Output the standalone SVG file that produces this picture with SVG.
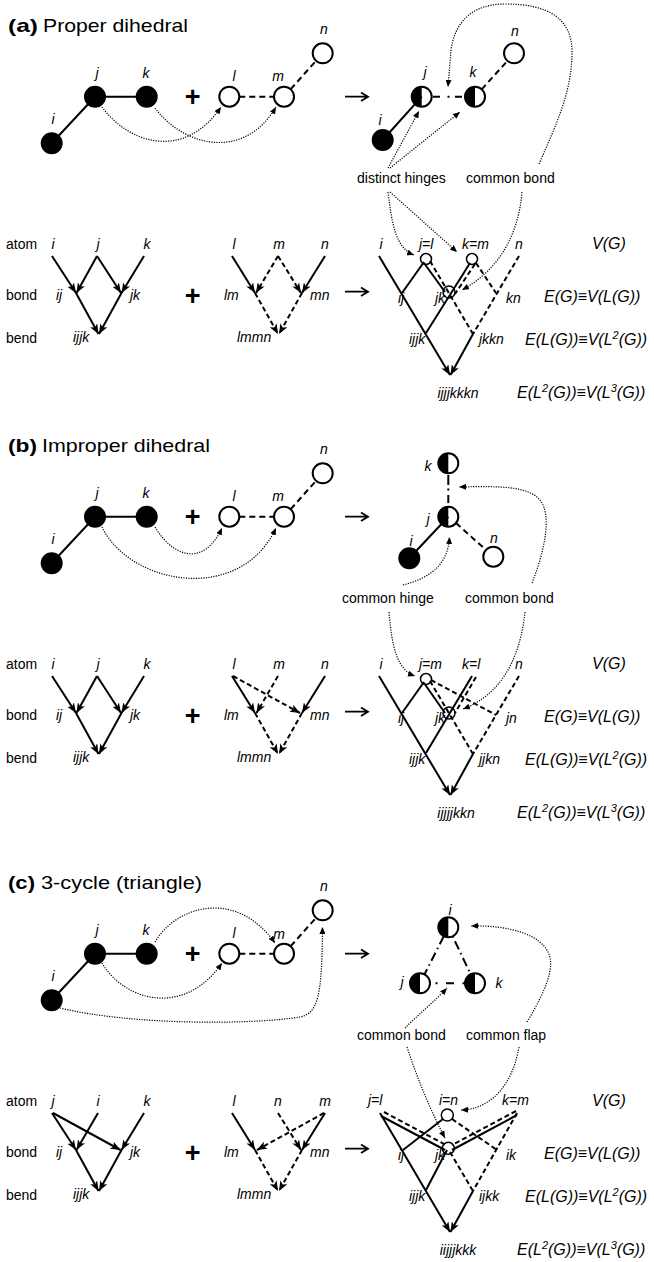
<svg xmlns="http://www.w3.org/2000/svg" width="654" height="1262" viewBox="0 0 654 1262">
<style>
text{font-family:"Liberation Sans",Arial,"DejaVu Sans",sans-serif;fill:#000}
.ttl{font-size:19px}
.it{font-style:italic;font-size:14px}
.tx{font-size:14px}
.fm{font-style:italic;font-size:16px}
.sup{font-size:11px}
.plus{font-size:27px;font-weight:bold}
.s{stroke:#000;stroke-width:2;fill:none}
.d{stroke:#000;stroke-width:2;fill:none;stroke-dasharray:5 3}
.g{stroke:#000;stroke-width:2;fill:none;stroke-dasharray:6 4}
.dd{stroke:#000;stroke-width:2;fill:none}
.dt{stroke:#000;stroke-width:1.2;fill:none;stroke-dasharray:1.2 1.3}
.ar{stroke:#000;stroke-width:1.8;fill:none}
.nf{fill:#000;stroke:#000;stroke-width:2}
.no{fill:#fff;stroke:#000;stroke-width:2}
.nh{fill:none;stroke:#000;stroke-width:2}
.mc{fill:none;stroke:#000;stroke-width:1.5}
</style>
<defs>
<marker id="ah" markerUnits="userSpaceOnUse" markerWidth="11" markerHeight="8" refX="10" refY="4" orient="auto"><path d="M0,0 L10,4 L0,8 L2.5,4 z" fill="#000"/></marker>
<marker id="dh" markerUnits="userSpaceOnUse" markerWidth="8" markerHeight="6" refX="7" refY="3" orient="auto"><path d="M0,0 L7,3 L0,6 z" fill="#000"/></marker>
</defs>

<!-- ================= (a) ================= -->
<g id="secA">
<g id="a-title"><text class="ttl" x="8" y="32" font-weight="bold" textLength="30" lengthAdjust="spacingAndGlyphs">(a)</text><text class="ttl" x="43" y="32" textLength="145" lengthAdjust="spacingAndGlyphs">Proper dihedral</text></g>
<g id="a-connectors">
<path class="s" d="M51.7,143.3 L95,96.7 M95,96.7 L146.7,96.7"/>
<path class="g" d="M239.3,96.7 L274,96.7 M290.7,89.2 L316,60.8"/>
<path class="s" d="M382.7,140 L421.7,96.7"/>
<path class="dd" d="M433,96.7 H440 M447.5,96.7 H449.5 M455,96.7 H462"/>
<path class="g" d="M481.7,89.3 L507.3,61"/>
<path class="ar" d="M345,96.7 H367 M361,92.5 L368,96.7 L361,100.9"/>
<path class="dt" marker-end="url(#dh)" d="M102,107 C130,145 185,160 221,107"/>
<path class="dt" marker-end="url(#dh)" d="M155,108 C185,148 245,160 276,107"/>
<path class="dt" marker-end="url(#dh)" d="M539,164 C556,125 572,92 572,52 C572,18 548,4 505,4 C472,4 455,22 451,50 L448,87"/>
<path class="dt" marker-end="url(#dh)" d="M388,168 L419,111"/>
<path class="dt" marker-end="url(#dh)" d="M390,168 L460,112"/>
<path class="dt" marker-end="url(#dh)" d="M388,192 C392,225 396,248 414,255"/>
<path class="dt" marker-end="url(#dh)" d="M390,192 L457,252"/>
<path class="dt" marker-end="url(#dh)" d="M522,192 C518,240 495,272 462,290"/>
</g>
<g id="a-n-i"><circle class="nf" cx="51.7" cy="143.3" r="10"/><text class="it" x="53" y="124" text-anchor="middle">i</text></g>
<g id="a-n-j"><circle class="nf" cx="95" cy="96.7" r="10"/><text class="it" x="97" y="78" text-anchor="middle">j</text></g>
<g id="a-n-k"><circle class="nf" cx="146.7" cy="96.7" r="10"/><text class="it" x="146" y="78" text-anchor="middle">k</text></g>
<g id="a-plus"><text class="plus" x="192.7" y="105.5" text-anchor="middle">+</text></g>
<g id="a-n-l"><circle class="no" cx="229.3" cy="96.7" r="10"/><text class="it" x="234" y="81" text-anchor="middle">l</text></g>
<g id="a-n-m"><circle class="no" cx="284" cy="96.7" r="10"/><text class="it" x="278" y="81" text-anchor="middle">m</text></g>
<g id="a-n-n"><circle class="no" cx="322.7" cy="53.3" r="10"/><text class="it" x="324" y="34" text-anchor="middle">n</text></g>
<g id="a-r-i"><circle class="nf" cx="382.7" cy="140" r="10"/><text class="it" x="380" y="125" text-anchor="middle">i</text></g>
<g id="a-r-j"><path d="M421.7,86.7 A10,10 0 0 0 421.7,106.7 Z" fill="#000"/><circle class="nh" cx="421.7" cy="96.7" r="10"/><text class="it" x="425" y="77" text-anchor="middle">j</text></g>
<g id="a-r-k"><path d="M475,86.7 A10,10 0 0 0 475,106.7 Z" fill="#000"/><circle class="nh" cx="475" cy="96.7" r="10"/><text class="it" x="473" y="77" text-anchor="middle">k</text></g>
<g id="a-r-n"><circle class="no" cx="514" cy="53.3" r="10"/><text class="it" x="515" y="36" text-anchor="middle">n</text></g>
<g id="a-notes"><text class="tx" x="357" y="183">distinct hinges</text><text class="tx" x="466" y="183">common bond</text></g>

<g id="a-lattice-left">
<text class="tx" x="6" y="249">atom</text><text class="tx" x="6" y="300">bond</text><text class="tx" x="6" y="343">bend</text>
<text class="it" x="53" y="249" text-anchor="middle">i</text><text class="it" x="98" y="249" text-anchor="middle">j</text><text class="it" x="147" y="249" text-anchor="middle">k</text>
<text class="it" x="56" y="300">ij</text><text class="it" x="130" y="300">jk</text><text class="it" x="73" y="342">ijjk</text>
<path class="s" marker-end="url(#ah)" d="M52,256 L76,293"/>
<path class="s" marker-end="url(#ah)" d="M97,256 L76.5,293"/>
<path class="s" marker-end="url(#ah)" d="M97,256 L121,293"/>
<path class="s" marker-end="url(#ah)" d="M144,256 L121.5,293"/>
<path class="s" marker-end="url(#ah)" d="M76,293 L98.5,334"/>
<path class="s" marker-end="url(#ah)" d="M121.5,293 L99,334"/>
</g>
<g id="a-plus2"><text class="plus" x="192.7" y="305" text-anchor="middle">+</text></g>
<g id="a-lattice-right">
<text class="it" x="234" y="249" text-anchor="middle">l</text><text class="it" x="279" y="249" text-anchor="middle">m</text><text class="it" x="325" y="249" text-anchor="middle">n</text>
<text class="it" x="224" y="300">lm</text><text class="it" x="310" y="300">mn</text><text class="it" x="237" y="342">lmmn</text>
<path class="s" marker-end="url(#ah)" d="M232,256 L255,293"/>
<path class="s" marker-end="url(#ah)" d="M325,256 L302,293"/>
<path class="d" marker-end="url(#ah)" d="M278,256 L256,293"/>
<path class="d" marker-end="url(#ah)" d="M278,256 L301,293"/>
<path class="d" marker-end="url(#ah)" d="M255,293 L278,334"/>
<path class="d" marker-end="url(#ah)" d="M302,293 L279,334"/>
</g>
<g id="a-arrow2"><path class="ar" d="M345,291.7 H367 M361,287.5 L368,291.7 L361,295.9"/></g>
<g id="a-lattice-merged">
<text class="it" x="381" y="249" text-anchor="middle">i</text><text class="it" x="419" y="249">j=l</text><text class="it" x="462" y="249">k=m</text><text class="it" x="519" y="249" text-anchor="middle">n</text>
<text class="it" x="398" y="303">ij</text><text class="it" x="435" y="303">jk</text><text class="it" x="506" y="303">kn</text>
<text class="it" x="409" y="344">ijjk</text><text class="it" x="479" y="344">jkkn</text>
<text class="it" x="458" y="398" text-anchor="middle">ijjjkkkn</text>
<path class="s" marker-end="url(#ah)" d="M379,256 L450,375"/>
<path class="s" d="M424,262 L402,293"/>
<path class="s" d="M424,263 L445,292"/>
<path class="d" d="M430,261 L473,334"/>
<path class="s" d="M470,263 L426,333"/>
<path class="d" d="M475,264 L455,294"/>
<path class="d" d="M476,263 L496,293"/>
<path class="d" d="M519,256 L473,334"/>
<path class="s" marker-end="url(#ah)" d="M473,334 L450.5,375"/>
<circle class="mc" cx="426" cy="259" r="5.5"/><circle class="mc" cx="472" cy="259" r="5.5"/><circle class="mc" cx="449" cy="292" r="6"/>
</g>
<g id="a-formulas">
<text class="fm" x="592" y="249">V(G)</text>
<text class="fm" x="544" y="302">E(G)≡V(L(G))</text>
<text class="fm" x="525" y="345">E(L(G))≡V(L<tspan class="sup" dy="-6">2</tspan><tspan dy="6">(G))</tspan></text>
<text class="fm" x="517" y="398">E(L<tspan class="sup" dy="-6">2</tspan><tspan dy="6">(G))≡V(L</tspan><tspan class="sup" dy="-6">3</tspan><tspan dy="6">(G))</tspan></text>
</g>
</g>

<!-- ================= (b) ================= -->
<g id="secB" transform="translate(0,420)">
<g id="b-title"><text class="ttl" x="8" y="32" font-weight="bold" textLength="29" lengthAdjust="spacingAndGlyphs">(b)</text><text class="ttl" x="42" y="32" textLength="168" lengthAdjust="spacingAndGlyphs">Improper dihedral</text></g>
<g id="b-connectors">
<path class="s" d="M51.7,143.3 L95,96.7 M95,96.7 L146.7,96.7"/>
<path class="g" d="M239.3,96.7 L274,96.7 M290.7,89.2 L316,60.8"/>
<path class="s" d="M409.3,138.3 L448.3,96.7"/>
<path class="g" d="M456,103 L486,130"/>
<path class="dd" d="M448.3,55 V65 M448.3,68.5 V70.5 M448.3,75 V83"/>
<path class="ar" d="M345,96.7 H367 M361,92.5 L368,96.7 L361,100.9"/>
<path class="dt" marker-end="url(#dh)" d="M155,107 C175,140 205,145 222,108"/>
<path class="dt" marker-end="url(#dh)" d="M102,107 C130,165 240,185 276,108"/>
<path class="dt" marker-end="url(#dh)" d="M403,165 C430,158 448,145 449.5,117"/>
<path class="dt" marker-end="url(#dh)" d="M532,163 C545,130 552,95 540,80 C528,66 500,66 459,67"/>
<path class="dt" marker-end="url(#dh)" d="M389,192 C392,230 398,250 415,256"/>
<path class="dt" marker-end="url(#dh)" d="M525,192 C520,240 500,275 463,289"/>
</g>
<g id="b-n-i"><circle class="nf" cx="51.7" cy="143.3" r="10"/><text class="it" x="53" y="124" text-anchor="middle">i</text></g>
<g id="b-n-j"><circle class="nf" cx="95" cy="96.7" r="10"/><text class="it" x="97" y="78" text-anchor="middle">j</text></g>
<g id="b-n-k"><circle class="nf" cx="146.7" cy="96.7" r="10"/><text class="it" x="146" y="78" text-anchor="middle">k</text></g>
<g id="b-plus"><text class="plus" x="192.7" y="105.5" text-anchor="middle">+</text></g>
<g id="b-n-l"><circle class="no" cx="229.3" cy="96.7" r="10"/><text class="it" x="234" y="81" text-anchor="middle">l</text></g>
<g id="b-n-m"><circle class="no" cx="284" cy="96.7" r="10"/><text class="it" x="278" y="81" text-anchor="middle">m</text></g>
<g id="b-n-n"><circle class="no" cx="322.7" cy="53.3" r="10"/><text class="it" x="324" y="34" text-anchor="middle">n</text></g>
<g id="b-r-k"><path d="M448.3,33.3 A10,10 0 0 0 448.3,53.3 Z" fill="#000"/><circle class="nh" cx="448.3" cy="43.3" r="10"/><text class="it" x="428" y="51" text-anchor="middle">k</text></g>
<g id="b-r-j"><path d="M448.3,86.7 A10,10 0 0 0 448.3,106.7 Z" fill="#000"/><circle class="nh" cx="448.3" cy="96.7" r="10"/><text class="it" x="428" y="104" text-anchor="middle">j</text></g>
<g id="b-r-i"><circle class="nf" cx="409.3" cy="138.3" r="10"/><text class="it" x="411" y="126" text-anchor="middle">i</text></g>
<g id="b-r-n"><circle class="no" cx="493.3" cy="136.7" r="10"/><text class="it" x="494" y="123" text-anchor="middle">n</text></g>
<g id="b-notes"><text class="tx" x="342" y="183">common hinge</text><text class="tx" x="465" y="183">common bond</text></g>

<g id="b-lattice-left">
<text class="tx" x="6" y="249">atom</text><text class="tx" x="6" y="300">bond</text><text class="tx" x="6" y="343">bend</text>
<text class="it" x="53" y="249" text-anchor="middle">i</text><text class="it" x="98" y="249" text-anchor="middle">j</text><text class="it" x="147" y="249" text-anchor="middle">k</text>
<text class="it" x="56" y="300">ij</text><text class="it" x="130" y="300">jk</text><text class="it" x="73" y="342">ijjk</text>
<path class="s" marker-end="url(#ah)" d="M52,256 L76,293"/>
<path class="s" marker-end="url(#ah)" d="M97,256 L76.5,293"/>
<path class="s" marker-end="url(#ah)" d="M97,256 L121,293"/>
<path class="s" marker-end="url(#ah)" d="M144,256 L121.5,293"/>
<path class="s" marker-end="url(#ah)" d="M76,293 L98.5,334"/>
<path class="s" marker-end="url(#ah)" d="M121.5,293 L99,334"/>
</g>
<g id="b-plus2"><text class="plus" x="192.7" y="305" text-anchor="middle">+</text></g>
<g id="b-lattice-right">
<text class="it" x="234" y="249" text-anchor="middle">l</text><text class="it" x="279" y="249" text-anchor="middle">m</text><text class="it" x="325" y="249" text-anchor="middle">n</text>
<text class="it" x="224" y="300">lm</text><text class="it" x="310" y="300">mn</text><text class="it" x="237" y="342">lmmn</text>
<path class="s" marker-end="url(#ah)" d="M232,256 L255,293"/>
<path class="s" marker-end="url(#ah)" d="M325,256 L302,293"/>
<path class="d" marker-end="url(#ah)" d="M233,256 L300,293"/>
<path class="d" marker-end="url(#ah)" d="M278,256 L256.5,293"/>
<path class="d" marker-end="url(#ah)" d="M255,293 L278,334"/>
<path class="d" marker-end="url(#ah)" d="M302,293 L279,334"/>
</g>
<g id="b-arrow2"><path class="ar" d="M345,291.7 H367 M361,287.5 L368,291.7 L361,295.9"/></g>
<g id="b-lattice-merged">
<text class="it" x="381" y="249" text-anchor="middle">i</text><text class="it" x="419" y="249">j=m</text><text class="it" x="462" y="249">k=l</text><text class="it" x="519" y="249" text-anchor="middle">n</text>
<text class="it" x="398" y="303">ij</text><text class="it" x="435" y="303">jk</text><text class="it" x="506" y="303">jn</text>
<text class="it" x="409" y="344">ijjk</text><text class="it" x="479" y="344">jjkn</text>
<text class="it" x="456" y="398" text-anchor="middle">ijjjjkkn</text>
<path class="s" marker-end="url(#ah)" d="M379,256 L450,375"/>
<path class="s" d="M424,262 L402,293"/>
<path class="s" d="M424,263 L445,293"/>
<path class="d" d="M430,261 L473,334"/>
<path class="d" d="M431,260 L496,295"/>
<path class="s" d="M472,256 L426,333"/>
<path class="d" d="M476,257 L455,293"/>
<path class="d" d="M519,256 L473,334"/>
<path class="s" marker-end="url(#ah)" d="M473,334 L450.5,375"/>
<circle class="mc" cx="426" cy="259" r="5.5"/><circle class="mc" cx="449" cy="293" r="6"/>
</g>
<g id="b-formulas">
<text class="fm" x="592" y="249">V(G)</text>
<text class="fm" x="544" y="302">E(G)≡V(L(G))</text>
<text class="fm" x="525" y="345">E(L(G))≡V(L<tspan class="sup" dy="-6">2</tspan><tspan dy="6">(G))</tspan></text>
<text class="fm" x="517" y="398">E(L<tspan class="sup" dy="-6">2</tspan><tspan dy="6">(G))≡V(L</tspan><tspan class="sup" dy="-6">3</tspan><tspan dy="6">(G))</tspan></text>
</g>
</g>

<!-- ================= (c) ================= -->
<g id="secC" transform="translate(0,857)">
<g id="c-title"><text class="ttl" x="8" y="32" font-weight="bold" textLength="27" lengthAdjust="spacingAndGlyphs">(c)</text><text class="ttl" x="41" y="32" textLength="161" lengthAdjust="spacingAndGlyphs">3-cycle (triangle)</text></g>
<g id="c-connectors">
<path class="s" d="M51.7,143.3 L95,96.7 M95,96.7 L146.7,96.7"/>
<path class="g" d="M239.3,96.7 L274,96.7 M290.7,89.2 L316,60.8"/>
<path class="dd" stroke-dasharray="9 4 1.5 4" d="M443.8,79.2 L424.5,117.4"/>
<path class="dd" stroke-dasharray="1.5 4 9 4" d="M452.6,79.3 L470.7,117.3"/>
<path class="dd" d="M435.5,126.3 H437.5 M446,126.3 H454 M462.5,126.3 H464.5"/>
<path class="ar" d="M345,96.7 H367 M361,92.5 L368,96.7 L361,100.9"/>
<path class="dt" marker-end="url(#dh)" d="M155,85 C175,50 235,30 275,86"/>
<path class="dt" marker-end="url(#dh)" d="M102,106 C125,145 185,160 222,106"/>
<path class="dt" marker-end="url(#dh)" d="M60,151 C130,168 250,168 300,160 C318,156 322,140 322.5,70"/>
<path class="dt" marker-end="url(#dh)" d="M405,171 C418,158 436,143 447,131"/>
<path class="dt" marker-end="url(#dh)" d="M527,165 C545,135 556,110 548,95 C540,78 510,68 471,69"/>
<path class="dt" marker-end="url(#dh)" d="M407,190 C420,230 435,262 445,281"/>
<path class="dt" marker-end="url(#dh)" d="M519,190 C512,230 490,252 461,253"/>
</g>
<g id="c-n-i"><circle class="nf" cx="51.7" cy="143.3" r="10"/><text class="it" x="53" y="124" text-anchor="middle">i</text></g>
<g id="c-n-j"><circle class="nf" cx="95" cy="96.7" r="10"/><text class="it" x="97" y="78" text-anchor="middle">j</text></g>
<g id="c-n-k"><circle class="nf" cx="146.7" cy="96.7" r="10"/><text class="it" x="146" y="78" text-anchor="middle">k</text></g>
<g id="c-plus"><text class="plus" x="192.7" y="105.5" text-anchor="middle">+</text></g>
<g id="c-n-l"><circle class="no" cx="229.3" cy="96.7" r="10"/><text class="it" x="234" y="81" text-anchor="middle">l</text></g>
<g id="c-n-m"><circle class="no" cx="284" cy="96.7" r="10"/><text class="it" x="279" y="82" text-anchor="middle">m</text></g>
<g id="c-n-n"><circle class="no" cx="322.7" cy="53.3" r="10"/><text class="it" x="324" y="34" text-anchor="middle">n</text></g>
<g id="c-r-i"><path d="M448.3,60.3 A10,10 0 0 0 448.3,80.3 Z" fill="#000"/><circle class="nh" cx="448.3" cy="70.3" r="10"/><text class="it" x="450" y="58" text-anchor="middle">i</text></g>
<g id="c-r-j"><path d="M420,116.3 A10,10 0 0 0 420,136.3 Z" fill="#000"/><circle class="nh" cx="420" cy="126.3" r="10"/><text class="it" x="402" y="130" text-anchor="middle">j</text></g>
<g id="c-r-k"><path d="M475,116.3 A10,10 0 0 0 475,136.3 Z" fill="#000"/><circle class="nh" cx="475" cy="126.3" r="10"/><text class="it" x="499" y="131" text-anchor="middle">k</text></g>
<g id="c-notes"><text class="tx" x="357" y="183">common bond</text><text class="tx" x="466" y="183">common flap</text></g>

<g id="c-lattice-left">
<text class="tx" x="6" y="249">atom</text><text class="tx" x="6" y="300">bond</text><text class="tx" x="6" y="343">bend</text>
<text class="it" x="53" y="249" text-anchor="middle">j</text><text class="it" x="98" y="249" text-anchor="middle">i</text><text class="it" x="147" y="249" text-anchor="middle">k</text>
<text class="it" x="56" y="300">ij</text><text class="it" x="130" y="300">jk</text><text class="it" x="73" y="342">ijjk</text>
<path class="s" marker-end="url(#ah)" d="M52,256 L76,293"/>
<path class="s" marker-end="url(#ah)" d="M53,256 L120.5,293"/>
<path class="s" marker-end="url(#ah)" d="M98,256 L76.5,293"/>
<path class="s" marker-end="url(#ah)" d="M144,256 L121.5,293"/>
<path class="s" marker-end="url(#ah)" d="M76,293 L98.5,334"/>
<path class="s" marker-end="url(#ah)" d="M121.5,293 L99,334"/>
</g>
<g id="c-plus2"><text class="plus" x="192.7" y="305" text-anchor="middle">+</text></g>
<g id="c-lattice-right">
<text class="it" x="234" y="249" text-anchor="middle">l</text><text class="it" x="278" y="249" text-anchor="middle">n</text><text class="it" x="325" y="249" text-anchor="middle">m</text>
<text class="it" x="224" y="300">lm</text><text class="it" x="310" y="300">mn</text><text class="it" x="237" y="342">lmmn</text>
<path class="s" marker-end="url(#ah)" d="M232,256 L255,293"/>
<path class="d" marker-end="url(#ah)" d="M278,256 L301,293"/>
<path class="s" marker-end="url(#ah)" d="M325,256 L302,293"/>
<path class="d" marker-end="url(#ah)" d="M324,256 L257,293"/>
<path class="d" marker-end="url(#ah)" d="M255,293 L278,334"/>
<path class="d" marker-end="url(#ah)" d="M302,293 L279,334"/>
</g>
<g id="c-arrow2"><path class="ar" d="M345,291.7 H367 M361,287.5 L368,291.7 L361,295.9"/></g>
<g id="c-lattice-merged">
<text class="it" x="368" y="248">j=l</text><text class="it" x="439" y="248">i=n</text><text class="it" x="502" y="248">k=m</text>
<text class="it" x="398" y="303">ij</text><text class="it" x="435" y="303">jk</text><text class="it" x="506" y="303">ik</text>
<text class="it" x="409" y="344">ijjk</text><text class="it" x="479" y="344">ijkk</text>
<text class="it" x="458" y="398" text-anchor="middle">iijjjkkk</text>
<path class="s" marker-end="url(#ah)" d="M380,256 L450,375"/>
<path class="s" d="M381,259 L445,293"/>
<path class="d" d="M384,255 L446,288"/>
<path class="s" d="M443,262 L403,293"/>
<path class="d" d="M452,262 L497,293"/>
<path class="s" d="M517,258 L452,293"/>
<path class="d" d="M516,254 L452,288"/>
<path class="d" d="M517,256 L473,334"/>
<path class="s" d="M447,293 L426,333"/>
<path class="d" d="M450,295 L473,334"/>
<path class="s" marker-end="url(#ah)" d="M473,334 L450.5,375"/>
<circle class="mc" cx="447.3" cy="258" r="6"/><circle class="mc" cx="448.3" cy="291.3" r="6"/>
</g>
<g id="c-formulas">
<text class="fm" x="592" y="249">V(G)</text>
<text class="fm" x="544" y="302">E(G)≡V(L(G))</text>
<text class="fm" x="525" y="345">E(L(G))≡V(L<tspan class="sup" dy="-6">2</tspan><tspan dy="6">(G))</tspan></text>
<text class="fm" x="517" y="398">E(L<tspan class="sup" dy="-6">2</tspan><tspan dy="6">(G))≡V(L</tspan><tspan class="sup" dy="-6">3</tspan><tspan dy="6">(G))</tspan></text>
</g>
</g>
</svg>
